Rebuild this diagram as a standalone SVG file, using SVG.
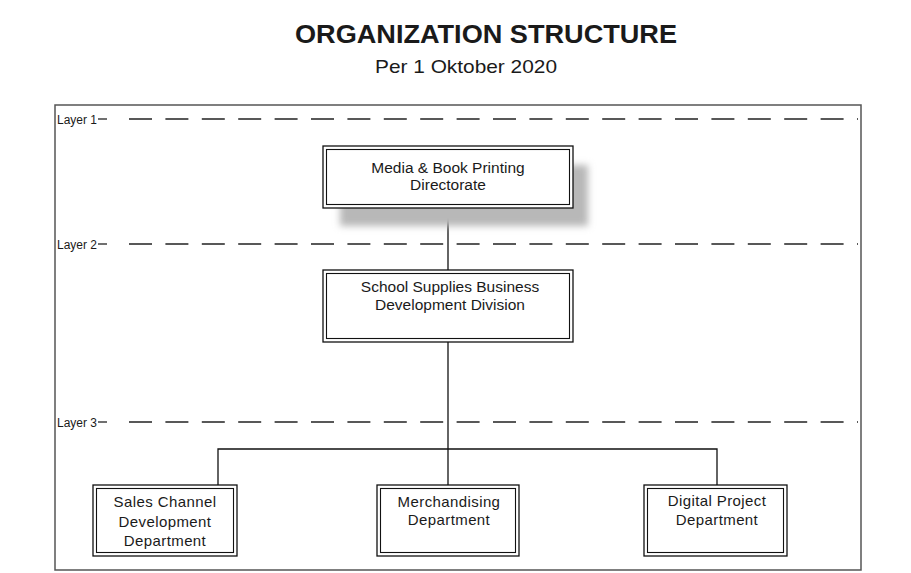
<svg xmlns="http://www.w3.org/2000/svg" width="911" height="573" viewBox="0 0 911 573">
<defs>
<style>
.t{font-family:"Liberation Sans",Arial,sans-serif;fill:#1a1a1a;text-anchor:middle}
.nt{font-size:15.5px}
.bt{font-size:15px;letter-spacing:0.4px}
.lay{font-family:"Liberation Sans",Arial,sans-serif;font-size:12px;fill:#1a1a1a}
.o{fill:#fff;stroke:#111;stroke-width:1.3}
.i{fill:none;stroke:#111;stroke-width:1.1}
.dash{stroke:#222;stroke-width:1.3;stroke-dasharray:23 13.4;fill:none}
.sd{stroke:#222;stroke-width:1.3}
.c{stroke:#111;stroke-width:1.3;fill:none}
</style>
<filter id="blur" x="-20%" y="-20%" width="140%" height="140%"><feGaussianBlur stdDeviation="3.5"/></filter>
</defs>
<rect width="911" height="573" fill="#fff"/>
<g id="title">
<text class="t" x="486" y="43" font-size="26" font-weight="bold" textLength="382" lengthAdjust="spacingAndGlyphs">ORGANIZATION STRUCTURE</text>
<text class="t" x="466" y="73" font-size="19" textLength="182" lengthAdjust="spacingAndGlyphs">Per 1 Oktober 2020</text>
</g>
<g id="frame">
<rect x="55" y="105" width="806" height="465" fill="none" stroke="#555" stroke-width="1.5"/>
</g>
<g id="layers">
<text class="lay" x="57" y="124" textLength="40" lengthAdjust="spacingAndGlyphs">Layer 1</text>
<line class="sd" x1="98" y1="119" x2="107" y2="119"/>
<line class="dash" x1="129" y1="119" x2="858" y2="119"/>
<text class="lay" x="57" y="249" textLength="40" lengthAdjust="spacingAndGlyphs">Layer 2</text>
<line class="sd" x1="98" y1="244" x2="107" y2="244"/>
<line class="dash" x1="129" y1="244" x2="858" y2="244"/>
<text class="lay" x="57" y="427" textLength="40" lengthAdjust="spacingAndGlyphs">Layer 3</text>
<line class="sd" x1="98" y1="422" x2="107" y2="422"/>
<line class="dash" x1="129" y1="422" x2="858" y2="422"/>
</g>
<g id="connectors">
<line class="c" x1="448" y1="208" x2="448" y2="270"/>
<line class="c" x1="448" y1="342" x2="448" y2="485"/>
<polyline class="c" points="218,485 218,449 717,449 717,485"/>
</g>
<g id="directorate">
<rect x="340" y="165" width="248" height="61" fill="#b8b8b8" filter="url(#blur)"/>
<rect class="o" x="323" y="146" width="250" height="62"/>
<rect class="i" x="326.5" y="149.5" width="243" height="55"/>
<text class="t nt" x="448" y="173">Media &amp; Book Printing</text>
<text class="t nt" x="448" y="190">Directorate</text>
</g>
<g id="division">
<rect class="o" x="323" y="270" width="250" height="72"/>
<rect class="i" x="326.5" y="273.5" width="243" height="65"/>
<text class="t nt" x="450" y="292">School Supplies Business</text>
<text class="t nt" x="450" y="310">Development Division</text>
</g>
<g id="sales">
<rect class="o" x="93" y="485" width="144" height="71"/>
<rect class="i" x="96.5" y="488.5" width="137" height="64"/>
<text class="t bt" x="165" y="507">Sales Channel</text>
<text class="t bt" x="165" y="527">Development</text>
<text class="t bt" x="165" y="546">Department</text>
</g>
<g id="merchandising">
<rect class="o" x="377" y="485" width="142" height="71"/>
<rect class="i" x="380.5" y="488.5" width="135" height="64"/>
<text class="t bt" x="449" y="507">Merchandising</text>
<text class="t bt" x="449" y="525">Department</text>
</g>
<g id="digital">
<rect class="o" x="644" y="485" width="143" height="71"/>
<rect class="i" x="647.5" y="488.5" width="136" height="64"/>
<text class="t bt" x="717" y="506">Digital Project</text>
<text class="t bt" x="717" y="525">Department</text>
</g>
</svg>
